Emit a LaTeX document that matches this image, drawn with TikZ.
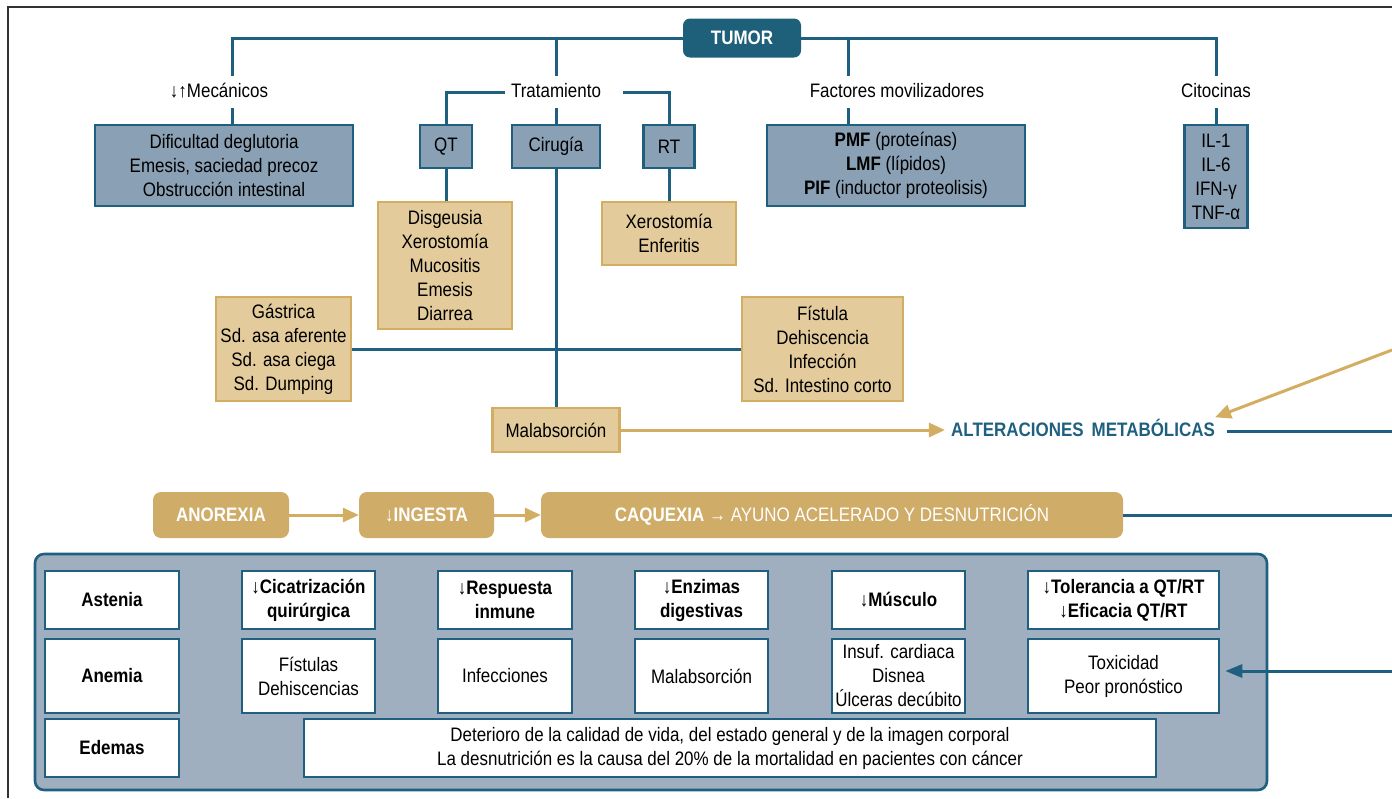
\documentclass[tikz,border=0pt]{standalone}
\usepackage{fontspec}
\setmainfont{Liberation Sans}[FakeStretch=0.87]
\usetikzlibrary{positioning,arrows.meta,calc}
\definecolor{tealc}{HTML}{1F6080}
\definecolor{tealdark}{HTML}{1E5F7A}
\definecolor{bluefill}{HTML}{8AA0B4}
\definecolor{panelfill}{HTML}{9FAFC0}
\definecolor{golddark}{HTML}{CFAC68}
\definecolor{goldfill}{HTML}{E3CB9B}
\definecolor{goldline}{HTML}{D3AD62}
\definecolor{framegray}{HTML}{333333}

\begin{document}
\begin{tikzpicture}[
  x=1pt, y=-1pt,
  font=\fontsize{19.5}{24}\selectfont,
  tline/.style={draw=tealc, line width=3pt},
  garrow/.style={draw=goldline, line width=3pt, -{Triangle[length=16pt,width=14pt]}},
  tarrow/.style={draw=tealc, line width=3pt, -{Triangle[length=17pt,width=13pt]}},
  lab/.style={align=center, inner sep=6pt, text height=15pt, text depth=4pt},
  bbox/.style={rectangle, draw=tealc, line width=2.5pt, fill=bluefill, align=center, inner sep=0pt},
  gbox/.style={rectangle, draw=goldline, line width=2.5pt, fill=goldfill, align=center, inner sep=0pt},
  wbox/.style={rectangle, draw=tealc, line width=2.6pt, fill=white, align=center, inner sep=0pt},
  rbox/.style={rectangle, rounded corners=8pt, fill=golddark, text=white, align=center,
               minimum height=46pt, inner sep=0pt},
  panel/.style={rectangle, rounded corners=9pt, draw=tealc, line width=2.6pt, fill=panelfill}
]
\useasboundingbox (0,0) rectangle (1392,798);

% frame
\draw[framegray, line width=1.2pt] (8,798) |- (1392,7);

% Tumor and first level
\node[rectangle, rounded corners=7pt, fill=tealdark, text=white, font=\fontsize{19.5}{24}\selectfont\bfseries,
      minimum width=118pt, minimum height=39pt] (tumor) at (742,38) {TUMOR};

\node[lab] (mec)  at (219,92)  {↓↑Mecánicos};
\node[lab] (trat) at (556,92)  {Tratamiento};
\node[lab] (fact) at (897,92)  {Factores movilizadores};
\node[lab] (cito) at (1216,92) {Citocinas};

\coordinate (mecx)  at (232,0);
\coordinate (factx) at (848,0);

% Boxes of the first level
\node[bbox, minimum width=258pt, minimum height=81pt] (mecbox) at (224,165.5)
  {Dificultad deglutoria\\Emesis, saciedad precoz\\Obstrucción intestinal};
\node[bbox, minimum width=52pt, minimum height=43pt] (qt)  at (446,146.5) {QT};
\node[bbox, minimum width=88pt, minimum height=43pt] (cir) at (556,146.5) {Cirugía};
\node[bbox, minimum width=51pt, minimum height=43pt] (rt)  at (669,146.5) {RT};
\node[bbox, minimum width=258pt, minimum height=81pt] (facbox) at (896,165.5)
  {\textbf{PMF} (proteínas)\\\textbf{LMF} (lípidos)\\\textbf{PIF} (inductor proteolisis)};
\node[bbox, minimum width=63pt, minimum height=103pt] (citobox) at (1216,176.5)
  {IL-1\\IL-6\\IFN-γ\\TNF-α};

% Effects of treatment
\node[gbox, minimum width=134pt, minimum height=127pt] (disg) at (445,265.5)
  {Disgeusia\\Xerostomía\\Mucositis\\Emesis\\Diarrea};
\node[gbox, minimum width=134pt, minimum height=63pt] (xero) at (669,233.5)
  {Xerostomía\\Enferitis};
\node[gbox, minimum width=135pt, minimum height=104pt] (gast) at (283.5,349)
  {Gástrica\\Sd. asa aferente\\Sd. asa ciega\\Sd. Dumping};
\node[gbox, minimum width=161pt, minimum height=104pt] (fist) at (822.5,349)
  {Fístula\\Dehiscencia\\Infección\\Sd. Intestino corto};
\node[gbox, minimum width=127pt, minimum height=44pt] (malab) at (556,430) {Malabsorción};
\node[lab, text=tealc, font=\fontsize{19.5}{24}\selectfont\bfseries] (alter) at (1083,431)
  {ALTERACIONES\, METABÓLICAS};

% Tree connectors
\draw[tline] (tumor.west) -| (mec.north -| mecx);
\draw[tline] (tumor.west -| trat.north) -- (trat.north);
\draw[tline] (tumor.east) -| (cito.north);
\draw[tline] (tumor.east -| factx) -- (fact.north -| factx);
\draw[tline] (mec.south -| mecx) -- (mecbox.north -| mecx);
\draw[tline] (fact.south -| factx) -- (facbox.north -| factx);
\draw[tline] (cito.south) -- (citobox.north);
\draw[tline] (trat.west) -| (qt.north);
\draw[tline] ([xshift=16pt]trat.east) -| (rt.north);
\draw[tline] (trat.south) -- (cir.north);
\draw[tline] (qt.south) -- (qt.south |- disg.north);
\draw[tline] (rt.south) -- (xero.north);
\draw[tline] (gast.east) -- (fist.west);
\draw[tline] (cir.south) -- (malab.north);

% free ends at the right border
\coordinate (eG) at (1392,350);
\coordinate (eA) at (1392,433);
\coordinate (eC) at (1392,515);
\coordinate (eT) at (1392,671);

\draw[garrow] (malab.east) -- (malab.east -| alter.west);
\draw[garrow] (eG) -- ([xshift=-6pt,yshift=-2pt]alter.north east);
\draw[tline] ([xshift=6pt]alter.east) -- (alter.east -| eA);

% Anorexia row
\node[rbox, minimum width=136pt, font=\fontsize{19.5}{24}\selectfont\bfseries] (anor)  at (221,515) {ANOREXIA};
\node[rbox, minimum width=135pt, font=\fontsize{19.5}{24}\selectfont\bfseries] (inges) at (426.5,515) {↓INGESTA};
\node[rbox, minimum width=582pt] (caq) at (832,515)
  {\textbf{CAQUEXIA} → AYUNO ACELERADO Y DESNUTRICIÓN};
\draw[garrow] (anor) -- (inges);
\draw[garrow] (inges) -- (caq);
\draw[tline] (caq.east) -- (eC);

% Consequences panel
\node[panel, minimum width=1232pt, minimum height=236pt] (panel) at (651,672) {};

\node[wbox, minimum width=134pt, minimum height=58pt, font=\fontsize{19.5}{24}\selectfont\bfseries] (ast) at (112,600) {Astenia};
\node[wbox, minimum width=133pt, minimum height=58pt, font=\fontsize{19.5}{24}\selectfont\bfseries] (cic) at (308.5,600) {↓Cicatrización\\quirúrgica};
\node[wbox, minimum width=134pt, minimum height=58pt, font=\fontsize{19.5}{24}\selectfont\bfseries] (res) at (505,600) {↓Respuesta\\inmune};
\node[wbox, minimum width=133pt, minimum height=58pt, font=\fontsize{19.5}{24}\selectfont\bfseries] (enz) at (701.5,600) {↓Enzimas\\digestivas};
\node[wbox, minimum width=133pt, minimum height=58pt, font=\fontsize{19.5}{24}\selectfont\bfseries] (mus) at (898.5,600) {↓Músculo};
\node[wbox, minimum width=191pt, minimum height=58pt, font=\fontsize{19.5}{24}\selectfont\bfseries] (tol) at (1123.5,600) {↓Tolerancia a QT/RT\\↓Eficacia QT/RT};

\node[wbox, minimum width=134pt, minimum height=74pt, font=\fontsize{19.5}{24}\selectfont\bfseries] (anem) at (112,676) {Anemia};
\node[wbox, minimum width=133pt, minimum height=74pt] (fistu) at (308.5,676) {Fístulas\\Dehiscencias};
\node[wbox, minimum width=134pt, minimum height=74pt] (infe) at (505,676) {Infecciones};
\node[wbox, minimum width=133pt, minimum height=74pt] (malb) at (701.5,676) {Malabsorción};
\node[wbox, minimum width=133pt, minimum height=74pt] (insu) at (898.5,676) {Insuf. cardiaca\\Disnea\\Úlceras decúbito};
\node[wbox, minimum width=191pt, minimum height=74pt] (tox) at (1123.5,676) {Toxicidad\\Peor pronóstico};

\node[wbox, minimum width=134pt, minimum height=58pt, font=\fontsize{19.5}{24}\selectfont\bfseries] (edem) at (112,748) {Edemas};
\node[wbox, minimum width=852pt, minimum height=58pt] (det) at (730,748)
  {Deterioro de la calidad de vida, del estado general y de la imagen corporal\\
   La desnutrición es la causa del 20\% de la mortalidad en pacientes con cáncer};

\draw[tarrow, shorten >=5pt] (eT) -- (eT -| tox.east);

\end{tikzpicture}
\end{document}
